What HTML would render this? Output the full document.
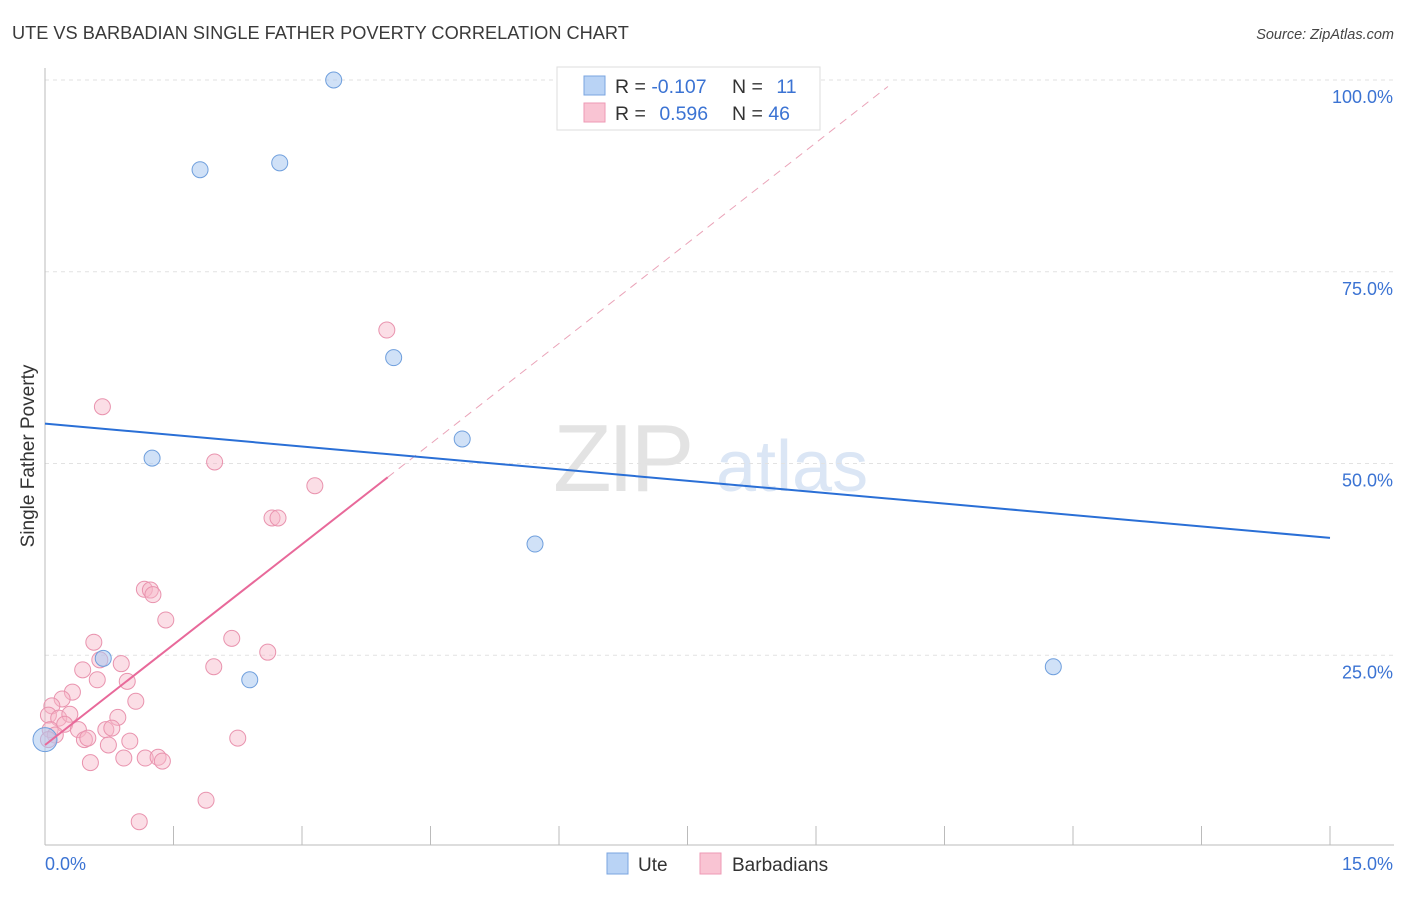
<!DOCTYPE html>
<html><head><meta charset="utf-8">
<style>
body{margin:0;background:#fff;font-family:"Liberation Sans",sans-serif;}
svg text{font-family:"Liberation Sans",sans-serif;}
</style></head>
<body>
<svg id="chart" width="1406" height="892" xmlns="http://www.w3.org/2000/svg">
<text x="12" y="39" font-size="18.2" fill="#3a3a3a">UTE VS BARBADIAN SINGLE FATHER POVERTY CORRELATION CHART</text>
<text x="1394" y="39" font-size="14.5" fill="#444" text-anchor="end" font-style="italic">Source: ZipAtlas.com</text>
<g>
<text x="553" y="491" font-size="96" fill="#e3e3e3" font-family="Liberation Serif" letter-spacing="-4">ZIP</text>
<text x="716" y="491" font-size="72" fill="#dbe6f5">atlas</text>
</g>
<g id="grid"></g>
<g id="axes"></g>
<g id="lines"></g>
<g id="points"></g>
<g>
<rect x="557" y="67" width="263" height="63" fill="#fff" stroke="#ddd"/>
<rect x="584" y="76" width="21" height="19" fill="#b9d3f5" stroke="#7aa5e0"/>
<rect x="584" y="103" width="21" height="19" fill="#f9c4d3" stroke="#ee9ab5"/>
<text x="615" y="93" font-size="19.5" fill="#333">R = <tspan fill="#3b73d3">-0.107</tspan></text>
<text x="732" y="93" font-size="19.5" fill="#333">N = <tspan fill="#3b73d3" dx="8">11</tspan></text>
<text x="615" y="120" font-size="19.5" fill="#333">R = <tspan fill="#3b73d3" dx="8">0.596</tspan></text>
<text x="732" y="120" font-size="19.5" fill="#333">N = <tspan fill="#3b73d3">46</tspan></text>
</g>
<g>
<rect x="607" y="853" width="21" height="21" fill="#b9d3f5" stroke="#7aa5e0"/>
<text x="638" y="871" font-size="19" fill="#333">Ute</text>
<rect x="700" y="853" width="21" height="21" fill="#f9c4d3" stroke="#ee9ab5"/>
<text x="732" y="871" font-size="19" fill="#333">Barbadians</text>
</g>
<text transform="translate(34,456) rotate(-90)" font-size="19" fill="#333" text-anchor="middle">Single Father Poverty</text>
</svg>
<script>
const xTicks=[0,1.5,3,4.5,6,7.5,9,10.5,12,13.5,15];
const yTicks=[25,50,75,100];
const yTickLabels=["25.0%","50.0%","75.0%","100.0%"];
const uteX=[3.37,1.81,2.74,4.07,4.87,1.25,5.72,0.68,2.39,11.77,0.0];
const uteY=[100,88.3,89.2,63.8,53.2,50.7,39.5,24.6,21.8,23.5,14];
const barX=[3.99,0.67,1.98,3.15,2.65,2.72,1.16,1.23,1.26,1.41,0.57,2.18,2.60,0.64,0.89,0.44,1.97,0.61,0.96,0.32,1.06,0.20,0.08,0.04,0.16,0.29,0.85,0.23,0.06,0.39,0.71,0.78,0.46,0.50,0.99,0.74,2.25,0.92,1.17,1.32,1.37,0.53,1.88,1.10,0.12,0.04];
const barY=[67.4,57.4,50.2,47.1,42.9,42.9,33.6,33.5,32.9,29.6,26.7,27.2,25.4,24.4,23.9,23.1,23.5,21.8,21.6,20.2,19.0,19.3,18.4,17.2,16.8,17.3,16.9,16.0,15.3,15.3,15.3,15.5,14.0,14.2,13.8,13.3,14.2,11.6,11.6,11.7,11.2,11.0,6.1,3.3,14.6,14.0];
const uteTrend=[55.2,40.3];
const barTrend=[13.3,48.2];
const barTrendEndX=4.0, barDashEndX=9.84;

const sx=v=>45+v*(1285/15);
const sy=v=>847-v*7.67;
const NS="http://www.w3.org/2000/svg";
function mk(tag,parent,attrs){const e=document.createElementNS(NS,tag);for(const k in attrs)e.setAttribute(k,attrs[k]);document.getElementById(parent).appendChild(e);return e;}

yTicks.forEach((t,i)=>{
 const g=mk('line','grid',{x1:45,x2:1394,y1:sy(t),y2:sy(t),stroke:'#e2e2e2','stroke-dasharray':'4,4'});
 
 
 const l=mk('text','axes',{x:1393,y:sy(t)+23,'font-size':18,fill:'#3b73d3','text-anchor':'end'});
 l.textContent=yTickLabels[i];
 
 
});
const ax=mk('line','axes',{x1:45,x2:45,y1:68,y2:845,stroke:'#bbb'});


const bx=mk('line','axes',{x1:45,x2:1394,y1:845,y2:845,stroke:'#bbb'});


xTicks.forEach(t=>{
 const tk=mk('line','axes',{x1:sx(t),x2:sx(t),y1:826,y2:845,stroke:'#bbb'});
 
 
});
const x0=mk('text','axes',{x:45,y:870,'font-size':18,fill:'#3b73d3'});x0.textContent="0.0%";


const x1=mk('text','axes',{x:1393,y:870,'font-size':18,fill:'#3b73d3','text-anchor':'end'});x1.textContent="15.0%";



const slope=(barTrend[1]-barTrend[0])/barTrendEndX;
const dl=mk('line','lines',{x1:sx(barTrendEndX),y1:sy(barTrend[1]),x2:sx(barDashEndX),y2:sy(barTrend[0]+slope*barDashEndX),stroke:'#eaa3b8','stroke-dasharray':'8,6','stroke-width':1});



barX.forEach((x,i)=>{
 const c=mk('circle','points',{cx:sx(x),cy:sy(barY[i]),r:8,fill:'rgba(247,182,200,0.45)',stroke:'#e993ae','stroke-width':1});
 
 
});
uteX.forEach((x,i)=>{
 const c=mk('circle','points',{cx:sx(x),cy:sy(uteY[i]),r:i==uteX.length-1?12:8,fill:'rgba(170,200,240,0.55)',stroke:'#6f9fdd','stroke-width':1});
 
 
});
const ul=mk('line','points',{x1:sx(0),y1:sy(uteTrend[0]),x2:sx(15),y2:sy(uteTrend[1]),stroke:'#2a6fd6','stroke-width':2});


const pl=mk('line','points',{x1:sx(0),y1:sy(barTrend[0]),x2:sx(barTrendEndX),y2:sy(barTrend[1]),stroke:'#e8699a','stroke-width':2});


</script>
</body></html>
